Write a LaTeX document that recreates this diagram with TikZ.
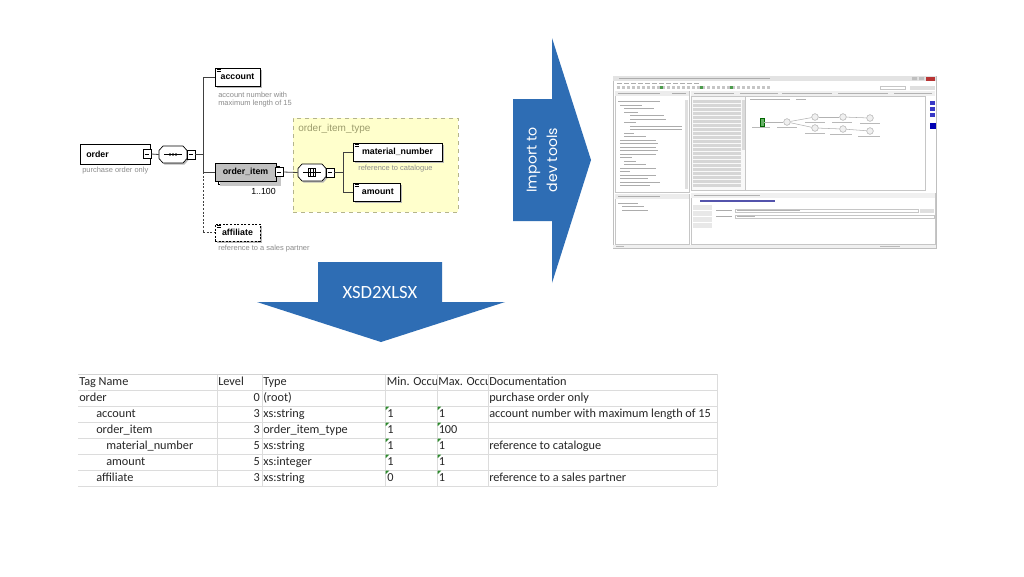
\documentclass[tikz,border=0pt]{standalone}
\usepackage{fontspec}
\setmainfont{Liberation Sans}
\newfontfamily\calibri{Carlito}
\newfontfamily\popp{Poppins}
\usetikzlibrary{shadows}
\definecolor{arrowblue}{HTML}{2E6DB4}
\definecolor{ityfill}{HTML}{FFFFCC}
\definecolor{ityline}{HTML}{B4B48C}
\definecolor{itytext}{HTML}{9C9C6C}
\definecolor{notegray}{HTML}{8C8C8C}
\definecolor{gridc}{HTML}{DCDCDC}
\definecolor{xlgreen}{HTML}{2E8B2E}
\definecolor{oigray}{HTML}{C0C0C0}
\begin{document}
\begin{tikzpicture}[x=0.75pt,y=-0.75pt,
  elem/.style={draw=black, line width=0.5pt, fill=white, inner sep=0pt,
    font=\bfseries\fontsize{6.6}{7}\selectfont,
    drop shadow={shadow xshift=1.4pt, shadow yshift=-1.4pt, fill=gray!55, opacity=1}},
  minusbox/.style={draw=black, line width=0.4pt, fill=white, minimum width=6pt, minimum height=6.8pt, inner sep=0pt,
    path picture={\draw[line width=0.4pt] ([xshift=1.2pt]path picture bounding box.west) -- ([xshift=-1.2pt]path picture bounding box.east);}},
  note/.style={text=notegray, font=\fontsize{5.6}{6.6}\selectfont, inner sep=0pt, anchor=west, align=left},
  conn/.style={line width=0.6pt, draw=black!75},
  cell/.style={font=\calibri\fontsize{9.2}{10}\selectfont, text=black!85, inner sep=0pt, anchor=west, text height=6.4pt, text depth=1.9pt},
  celle/.style={cell, anchor=east},
  grid/.style={draw=gridc, line width=0.5pt},
  treel/.style={draw=gray!65, line width=0.65pt},
  eq/.style={line width=0.35pt},
  ]
\useasboundingbox (0,0) rectangle (1024,576);
\fill[white] (0,0) rectangle (1024,576);

% ================= XSD diagram =================
\node[draw=ityline, dashed, line width=0.6pt, fill=ityfill, minimum width=165*0.75pt, minimum height=94*0.75pt, inner sep=0pt] (ity) at (375.5,165) {};
\node[text=itytext, font=\fontsize{7.5}{8}\selectfont, inner sep=0pt, anchor=west] (itylbl) at (298,129) {order\_item\_type};

% order
\node[draw=black, line width=0.5pt, fill=white, minimum width=70*0.75pt, minimum height=20*0.75pt, inner sep=0pt] (order) at (115,154) {};
\node[font=\bfseries\fontsize{6.6}{7}\selectfont, inner sep=0pt, anchor=west] (orderT) at (86,154) {order};
\node[minusbox] (orderM) at (147,154) {};
\node[note] (orderN) at (82,171) {purchase order only};

% sequence compositor
\node[minimum width=28*0.75pt, minimum height=17*0.75pt, inner sep=0pt] (seq) at (173,154.5) {};
\fill[gray!55] (164.5,147.5) -- (184.5,147.5) -- (188.5,151.5) -- (188.5,160) -- (184.5,164.5) -- (164.5,164.5) -- (160.5,160) -- (160.5,151.5) -- cycle;
\draw[line width=0.5pt, fill=white] (163,146) -- (183,146) -- (187,150.5) -- (187,158.5) -- (183,163) -- (163,163) -- (159,158.5) -- (159,150.5) -- cycle;
\draw[line width=0.6pt] (164,154.5) -- (182,154.5);
\foreach \dx in {170,173,176} \fill (\dx,154.5) circle (1.3);
\node[minusbox] (seqM) at (191,154.5) {};
\draw[conn] (orderM.east) -- (seq.west);

% bus
\coordinate (bt) at (203,77);
\coordinate (bm) at (203,172);
\coordinate (bb) at (203,232.5);
\coordinate (bs) at (203,154.5);
\draw[conn] (seqM.east) -- (bs);
\draw[conn] (bt) -- (bm);
\draw[conn, dashed, dash pattern=on 1.5pt off 1.2pt] (bm) -- (bb);

% account
\node[elem, minimum width=45*0.75pt, minimum height=18*0.75pt] (account) at (237.5,77) {account};
\draw[eq] (216.5,69.5) -- (220.5,69.5) (216.5,71) -- (220.5,71);
\node[note] (accountN) at (218,99.5) {account number with\\maximum length of 15};
\draw[conn] (bt) -- (account.west);

% order_item
\node[draw=black, line width=0.4pt, fill=white, minimum width=61*0.75pt, minimum height=18*0.75pt, inner sep=0pt] (oiS) at (248.5,175) {};
\node[draw=black, line width=0.5pt, fill=oigray, minimum width=61*0.75pt, minimum height=18*0.75pt, inner sep=0pt,
  font=\bfseries\fontsize{6.6}{7}\selectfont,
  drop shadow={shadow xshift=3.5pt, shadow yshift=-3.5pt, fill=gray!45, opacity=1}] (oi) at (245.5,172) {order\_item};
\node[minusbox] (oiM) at (279,172) {};
\node[font=\fontsize{6.6}{7}\selectfont, inner sep=0pt, anchor=east] (oiR) at (276,191) {1..100};
\draw[conn] (bm) -- (oi.west);

% affiliate
\node[elem, dashed, dash pattern=on 1.5pt off 1.2pt, minimum width=45*0.75pt, minimum height=17*0.75pt] (aff) at (237.5,232.5) {affiliate};
\draw[eq] (216.5,225.5) -- (220.5,225.5) (216.5,227) -- (220.5,227);
\node[note] (affN) at (218,249) {reference to a sales partner};
\draw[conn, dashed, dash pattern=on 1.5pt off 1.2pt] (bb) -- (aff.west);

% all compositor inside type
\node[minimum width=28*0.75pt, minimum height=17*0.75pt, inner sep=0pt] (allc) at (312,172.5) {};
\fill[gray!55] (303.5,165.5) -- (323.5,165.5) -- (327.5,169.5) -- (327.5,178) -- (323.5,182.5) -- (303.5,182.5) -- (299.5,178) -- (299.5,169.5) -- cycle;
\draw[line width=0.5pt, fill=white] (302,164) -- (322,164) -- (326,168.5) -- (326,176.5) -- (322,181) -- (302,181) -- (298,176.5) -- (298,168.5) -- cycle;
\draw[line width=0.6pt] (303,172.5) -- (321,172.5);
\draw[line width=0.5pt, fill=white] (308.5,168.5) rectangle (315.5,176.5);
\draw[line width=0.5pt] (310.5,168.5) -- (310.5,176.5) (313.5,168.5) -- (313.5,176.5);
\draw[line width=0.6pt] (305,172.5) -- (319,172.5);
\node[minusbox] (allM) at (330,172.5) {};
\draw[conn] (oiM.east) -- (allc.west);

\coordinate (b2t) at (343,152);
\coordinate (b2b) at (343,192);
\coordinate (b2m) at (343,172.5);
\draw[conn] (allM.east) -- (b2m);
\draw[conn] (b2t) -- (b2b);

\node[elem, minimum width=89*0.75pt, minimum height=18*0.75pt] (mat) at (397.5,152) {material\_number};
\draw[eq] (354.5,144.5) -- (358.5,144.5) (354.5,146) -- (358.5,146);
\node[note] (matN) at (358,169) {reference to catalogue};
\node[elem, minimum width=47*0.75pt, minimum height=18*0.75pt] (amt) at (376.5,192) {\hspace*{2pt}amount};
\draw[eq] (354.5,184.5) -- (358.5,184.5) (354.5,186) -- (358.5,186);
\draw[conn] (b2t) -- (mat.west);
\draw[conn] (b2b) -- (amt.west);

% ================= Blue arrows =================
\fill[arrowblue] (513,99) -- (552,99) -- (552,38) -- (591,160) -- (552,283) -- (552,221) -- (513,221) -- cycle;
\node[rotate=90, align=center, text=white, font=\popp\fontsize{10.6}{15.5}\selectfont, inner sep=0pt] (imp) at (542,160) {Import to\\dev tools};

\fill[arrowblue] (318,262) -- (442,262) -- (442,302) -- (505,302) -- (381,342) -- (257,302) -- (318,302) -- cycle;
\node[text=white, font=\calibri\fontsize{14}{16}\selectfont, inner sep=0pt] (xsd) at (380,292) {XSD2XLSX};

% ================= Screenshot =================
\node[draw=gray!50, line width=0.4pt, fill=white, minimum width=323*0.75pt, minimum height=172*0.75pt, inner sep=0pt] (shot) at (774.5,162) {};
\fill[gray!22] (613.2,76.2) rectangle (935.8,81);
\draw[gray!65, line width=0.7pt] (619,78.6) -- (770,78.6);
\fill[red!65!black!80] (926,76.5) rectangle (935,80.6);
\fill[gray!50] (912,77) rectangle (917,80) (919,77) rectangle (924,80);
\foreach \x in {617,624,...,700} \draw[gray!65, line width=0.6pt] (\x,83.5) -- ++(5,0);
\foreach \x in {617,622,...,770} \fill[gray!45] (\x,85.8) rectangle ++(3,3);
\foreach \x in {660,700,730} \fill[green!45!black!70] (\x,85.8) rectangle ++(3,3);
\draw[gray!45, line width=0.4pt] (880,86) rectangle (905,89);
\fill[gray!25] (910,85.5) rectangle (935,89.5);
% left explorer
\draw[gray!45, line width=0.4pt, fill=white] (615,91) rectangle (689,192);
\fill[gray!15] (615.2,91.2) rectangle (688.8,96);
\draw[gray!65, line width=0.6pt] (618,93.6) -- (660,93.6) (672,93.6) -- (686,93.6);
\draw[gray!65, line width=0.6pt] (618,101) -- (660,101);
\foreach \y/\x/\l in {105/620/22,108.5/624/30,112/624/14,115.5/630/34,119/630/36,122.5/624/12,126/630/52,129.5/630/52,133/624/10,136.5/624/22,140/620/36,143.5/620/38,147/620/36,150.5/620/38,154/620/36,157.5/620/12,161/624/12,164.5/624/22,168/620/36,171.5/620/10,175/620/36,178.5/620/28,182/620/40,185.5/620/30}
  \draw[treel] (\x,\y) -- ++(\l,0);
\fill[gray!25] (684.5,100) rectangle (687.5,189);
% editor tabs
\fill[gray!12] (691,91) rectangle (935,95.5);
\foreach \x/\l in {694/40,740/38,782/50,838/50,894/38} \draw[gray!60, line width=0.55pt] (\x,93.3) -- ++(\l,0);
% palette
\draw[gray!45, line width=0.4pt, fill=gray!5] (691,96) rectangle (745,190);
\foreach \y in {100,104,...,186} \fill[gray!32] (693,\y) rectangle ++(48,2.6);
\fill[gray!28] (742,100) rectangle (744.5,150);
% canvas
\draw[gray!45, line width=0.4pt] (745,96) rectangle (925,190);
\draw[gray!60, line width=0.55pt] (750,99) -- (790,99) (796,99) -- (806,99);
\tikzset{cv/.style={circle, draw=gray!60, fill=gray!12, line width=0.4pt, minimum size=5pt, inner sep=0pt}}
\node[draw=green!40!black, fill=green!50!black!60, minimum width=3pt, minimum height=6pt, inner sep=0pt] (n1) at (762,122) {};
\node[cv] (n2) at (787,122) {};
\node[cv] (n3) at (815,117) {};
\node[cv] (n4) at (815,128) {};
\node[cv] (n5) at (843,117) {};
\node[cv] (n6) at (843,129) {};
\node[cv] (n7) at (870,118) {};
\node[cv] (n8) at (870,131) {};
\foreach \a/\b in {n1/n2,n2/n3,n2/n4,n3/n5,n4/n6,n5/n7,n6/n8} \draw[gray!60, line width=0.4pt] (\a) -- (\b);
\foreach \x/\y/\l in {752/127.5/18,777/127.5/20,805/122.5/20,805/133.5/20,832/122.5/20,830/134.5/22,860/123.5/20,858/136.5/22}
  \draw[gray!55, line width=0.5pt] (\x,\y) -- ++(\l,0);
% right icons
\foreach \y in {101,107,113} \fill[blue!55!gray] (929.5,\y) rectangle ++(5,4);
\fill[blue!70!black] (929.5,123) rectangle ++(6,6);
% bottom-left panel
\draw[gray!45, line width=0.4pt] (615,194) rectangle (689,244);
\fill[gray!15] (615.2,194.2) rectangle (688.8,198.5);
\draw[gray!65, line width=0.6pt] (618,196.3) -- (660,196.3);
\foreach \y/\x/\l in {203/618/20,206.5/622/22,210/622/26} \draw[treel] (\x,\y) -- ++(\l,0);
% properties panel
\draw[gray!45, line width=0.4pt] (691,193) rectangle (935,244);
\fill[gray!12] (691.2,193.2) rectangle (934.8,197.5);
\draw[gray!60, line width=0.55pt] (694,195.3) -- (760,195.3);
\draw[blue!35!gray, line width=0.9pt] (700,201) -- (775,201);
\foreach \y in {205,211,217,223} \fill[gray!18] (693,\y) rectangle ++(19,5);
\draw[gray!65, line width=0.55pt] (716,210.5) -- (732,210.5) (716,216.5) -- (732,216.5);
\draw[gray!45, line width=0.4pt] (735,209) rectangle (918,212.2);
\draw[gray!60, line width=0.5pt] (737,210.6) -- (800,210.6);
\fill[gray!25] (920,208.5) rectangle (934,212.7);
\draw[gray!45, line width=0.4pt] (735,215) rectangle (934,218.2);
\draw[gray!60, line width=0.5pt] (737,216.6) -- (755,216.6);
% status bar
\fill[gray!12] (613.2,244.5) rectangle (935.8,247.8);
\draw[gray!55, line width=0.4pt] (616,246.2) -- (624,246.2) (880,246.2) -- (900,246.2);

% ================= Table =================
\foreach \y in {390,406,...,486} \draw[grid] (78,\y) -- (717,\y);
\foreach \x in {217,262,385,437,488,717} \draw[grid] (\x,374) -- (\x,486);
\draw[draw=gray!35, line width=0.6pt] (78,374) -- (717,374);

\node[cell] (h1) at (79,382) {Tag Name};
\node[cell] (h2) at (218,382) {Level};
\node[cell] (h3) at (263,382) {Type};
\begin{scope}
\clip (385,375) rectangle (436.6,389);
\node[cell] (h4) at (386.5,382) {Min. Occu};
\end{scope}
\begin{scope}
\clip (437,375) rectangle (487.6,389);
\node[cell] (h5) at (438,382) {Max. Occu};
\end{scope}
\node[cell] (h6) at (489,382) {Documentation};

\node[cell] (r1a) at (79,398) {order};
\node[celle] (r1b) at (260,398) {0};
\node[cell] (r1c) at (263,398) {(root)};
\node[cell] (r1f) at (489,398) {purchase order only};

\node[cell] (r2a) at (96,414) {account};
\node[celle] (r2b) at (260,414) {3};
\node[cell] (r2c) at (263,414) {xs:string};
\node[cell] (r2d) at (387,414) {1};
\node[cell] (r2e) at (438.5,414) {1};
\node[cell] (r2f) at (489,414) {account number with maximum length of 15};

\node[cell] (r3a) at (96,430) {order\_item};
\node[celle] (r3b) at (260,430) {3};
\node[cell] (r3c) at (263,430) {order\_item\_type};
\node[cell] (r3d) at (387,430) {1};
\node[cell] (r3e) at (438.5,430) {100};

\node[cell] (r4a) at (106,446) {material\_number};
\node[celle] (r4b) at (260,446) {5};
\node[cell] (r4c) at (263,446) {xs:string};
\node[cell] (r4d) at (387,446) {1};
\node[cell] (r4e) at (438.5,446) {1};
\node[cell] (r4f) at (489,446) {reference to catalogue};

\node[cell] (r5a) at (106,462) {amount};
\node[celle] (r5b) at (260,462) {5};
\node[cell] (r5c) at (263,462) {xs:integer};
\node[cell] (r5d) at (387,462) {1};
\node[cell] (r5e) at (438.5,462) {1};

\node[cell] (r6a) at (96,478) {affiliate};
\node[celle] (r6b) at (260,478) {3};
\node[cell] (r6c) at (263,478) {xs:string};
\node[cell] (r6d) at (387,478) {0};
\node[cell] (r6e) at (438.5,478) {1};
\node[cell] (r6f) at (489,478) {reference to a sales partner};

\foreach \y in {406,422,438,454,470}
  \foreach \x in {385.6,437.6}
    \fill[xlgreen] (\x,\y+0.6) -- ++(3.6,0) -- ++(-3.6,3.6) -- cycle;
\end{tikzpicture}
\end{document}
